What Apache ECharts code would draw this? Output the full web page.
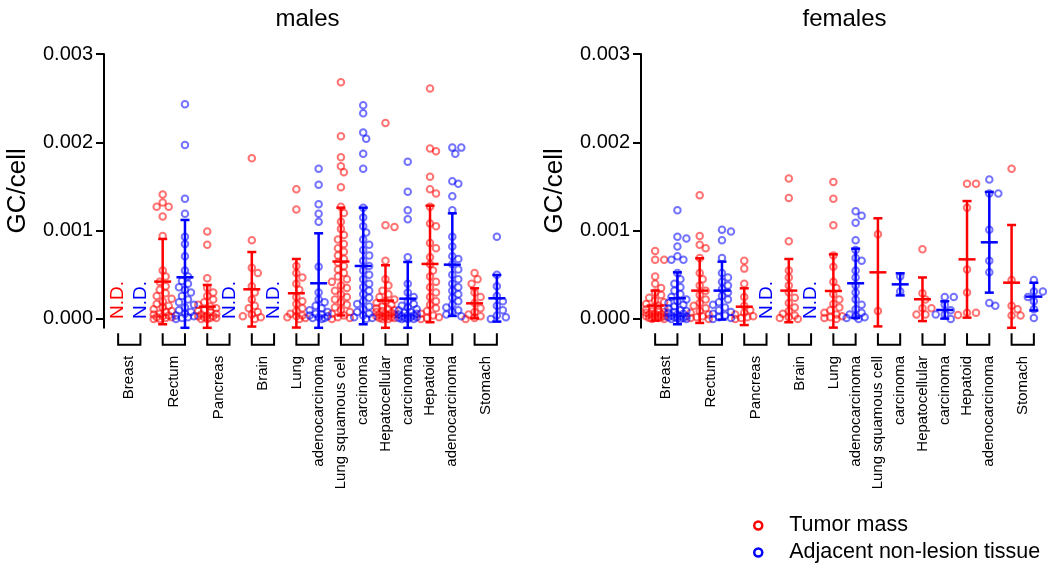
<!DOCTYPE html>
<html><head><meta charset="utf-8">
<script src="https://cdn.jsdelivr.net/npm/echarts@6/dist/echarts.min.js"></script>
<style>html,body{margin:0;padding:0;background:#fff}#c{width:1050px;height:573px}</style>
</head><body><div id="c"></div><script>
// ---------------- data (values in units of 0.001 GC/cell) ----------------
const categories = ['Breast','Rectum','Pancreas','Brain','Lung\nadenocarcinoma','Lung squamous cell\ncarcinoma','Hepatocellular\ncarcinoma','Hepatoid\nadenocarcinoma','Stomach'];
const panelTitles = ['males','females'];
const seriesNames = ['Tumor mass','Adjacent non-lesion tissue'];
const yTicks = [0, 0.001, 0.002, 0.003];
const UNIT = 0.001;

const maleTumorPoints = [
  null,
  [1.41,1.32,1.27,1.27,1.16,0.94,0.55,0.48,0.42,0.37,0.33,0.29,0.26,0.23,0.2,0.17,0.15,0.13,0.11,0.09,0.08,0.06,0.05,0.04,0.03,0.02,0.02,0.01,0.0,0.0],
  [0.99,0.84,0.46,0.35,0.3,0.26,0.22,0.19,0.16,0.14,0.12,0.1,0.09,0.08,0.06,0.05,0.04,0.03,0.03,0.02,0.01,0.01,0.0,0.0],
  [1.82,0.89,0.58,0.52,0.37,0.3,0.22,0.15,0.12,0.08,0.05,0.03,0.02,0.0],
  [1.47,1.24,0.6,0.52,0.47,0.4,0.33,0.25,0.2,0.17,0.12,0.09,0.06,0.04,0.03,0.02,0.01,0.0],
  [2.68,2.07,1.83,1.73,1.66,1.49,1.27,1.2,1.1,1.02,0.95,0.9,0.85,0.8,0.76,0.72,0.68,0.64,0.6,0.56,0.52,0.48,0.45,0.42,0.38,0.35,0.32,0.28,0.25,0.22,0.19,0.16,0.13,0.1,0.08,0.06,0.04,0.02,0.01,0.0],
  [2.22,1.06,1.04,0.66,0.45,0.38,0.32,0.28,0.25,0.22,0.2,0.18,0.16,0.14,0.12,0.11,0.1,0.09,0.08,0.07,0.06,0.05,0.05,0.04,0.03,0.03,0.02,0.02,0.01,0.01,0.0,0.0],
  [2.61,1.93,1.9,1.61,1.47,1.42,1.27,1.08,1.05,0.86,0.8,0.7,0.62,0.55,0.48,0.42,0.36,0.3,0.25,0.2,0.16,0.12,0.09,0.06,0.04,0.02,0.01,0.0],
  [0.52,0.45,0.4,0.3,0.25,0.18,0.12,0.08,0.05,0.03,0.01,0.0]
];
const maleAdjPoints = [
  null,
  [2.43,1.97,1.36,1.19,0.93,0.85,0.71,0.55,0.48,0.43,0.4,0.36,0.33,0.3,0.26,0.22,0.19,0.16,0.13,0.1,0.08,0.06,0.04,0.03,0.02,0.01,0.0],
  null,
  null,
  [1.7,1.52,1.3,1.19,1.1,0.59,0.3,0.22,0.19,0.15,0.12,0.1,0.08,0.06,0.05,0.04,0.03,0.02,0.01,0.01,0.0],
  [2.42,2.33,2.11,2.04,1.87,1.7,1.26,1.15,1.05,0.98,0.9,0.84,0.78,0.72,0.66,0.6,0.55,0.5,0.45,0.4,0.36,0.32,0.28,0.24,0.2,0.17,0.14,0.11,0.08,0.06,0.04,0.02,0.01,0.0],
  [1.78,1.44,1.23,1.13,0.7,0.4,0.3,0.25,0.2,0.17,0.15,0.13,0.11,0.1,0.08,0.07,0.06,0.05,0.04,0.04,0.03,0.02,0.02,0.01,0.01,0.0,0.0,0.0],
  [1.94,1.94,1.87,1.56,1.53,1.39,1.23,0.93,0.82,0.71,0.68,0.62,0.56,0.5,0.45,0.4,0.36,0.32,0.28,0.24,0.2,0.16,0.13,0.1,0.08,0.05,0.03],
  [0.93,0.5,0.37,0.26,0.2,0.15,0.1,0.04,0.02,0.0]
];
const femaleTumorPoints = [
  [0.77,0.67,0.67,0.48,0.4,0.35,0.3,0.27,0.24,0.21,0.19,0.17,0.15,0.13,0.12,0.11,0.1,0.09,0.08,0.07,0.06,0.05,0.05,0.04,0.04,0.03,0.03,0.02,0.02,0.01,0.01,0.0,0.0],
  [1.4,0.94,0.84,0.8,0.69,0.52,0.45,0.38,0.32,0.27,0.22,0.18,0.15,0.12,0.09,0.07,0.05,0.03,0.02,0.01,0.0],
  [0.66,0.57,0.4,0.25,0.15,0.1,0.07,0.05,0.03,0.02,0.01,0.0],
  [1.59,1.37,0.88,0.55,0.47,0.38,0.3,0.24,0.18,0.13,0.09,0.06,0.04,0.02,0.01,0.0],
  [1.55,1.36,1.06,0.72,0.59,0.42,0.35,0.28,0.22,0.17,0.13,0.1,0.07,0.05,0.03,0.02,0.01,0.0],
  [0.96,0.09],
  [0.79,0.29,0.22,0.12,0.12,0.05,0.05],
  [1.53,1.53,1.26,0.56,0.3,0.07,0.07,0.045],
  [1.7,0.44,0.15,0.11,0.04,0.04]
];
const femaleAdjPoints = [
  [1.23,0.93,0.91,0.82,0.71,0.67,0.67,0.52,0.45,0.4,0.36,0.32,0.28,0.25,0.22,0.2,0.18,0.16,0.14,0.12,0.1,0.09,0.08,0.07,0.06,0.05,0.04,0.03,0.03,0.02,0.02,0.01,0.01,0.0,0.0,0.0],
  [1.01,0.99,0.89,0.69,0.52,0.47,0.42,0.38,0.34,0.3,0.26,0.22,0.19,0.16,0.13,0.1,0.08,0.06,0.04,0.02,0.01,0.0],
  null,
  null,
  [1.22,1.17,1.09,0.89,0.78,0.69,0.66,0.55,0.47,0.38,0.3,0.22,0.16,0.11,0.07,0.05,0.03,0.02,0.01,0.0],
  [0.48,0.31],
  [0.25,0.25,0.16,0.1,0.05,0.05,0.0],
  [1.58,1.42,1.42,1.01,0.66,0.53,0.18,0.15],
  [0.44,0.31,0.31,0.25,0.2,0.11,0.01]
];

const maleTumorMean   = [null,0.423,0.139,0.336,0.291,0.65,0.208,0.623,0.177];
const maleTumorSD     = [null,0.483,0.246,0.422,0.388,0.61,0.40,0.66,0.17];
const maleAdjMean     = [null,0.472,null,null,0.404,0.600,0.230,0.615,0.234];
const maleAdjSD       = [null,0.649,null,null,0.566,0.66,0.415,0.581,0.264];
const femaleTumorMean = [0.151,0.321,0.139,0.321,0.317,0.528,0.223,0.675,0.411];
const femaleTumorSD   = [0.17,0.366,0.208,0.358,0.415,0.612,0.247,0.66,0.653];
const femaleAdjMean   = [0.234,0.321,null,null,0.404,0.392,0.102,0.868,0.253];
const femaleAdjSD     = [0.294,0.328,null,null,0.392,0.125,0.098,0.57,0.157];

// ---------------- layout / style ----------------
const FONT = '"Liberation Sans", Arial, Helvetica, sans-serif';
const Y_MIN = -0.0001, Y_MAX = 0.003;
const GRID_TOP = 54, GRID_H = 273.8, GRID_W = 401;
const GRID_LEFT = [107, 644];
const NCOL = categories.length * 2;
const COLORS = ['#ff0000', '#0000ff'];
const FADED = ['rgba(255,0,0,0.55)', 'rgba(0,0,255,0.55)'];

const panels = [
  {points:[maleTumorPoints, maleAdjPoints], mean:[maleTumorMean, maleAdjMean], sd:[maleTumorSD, maleAdjSD]},
  {points:[femaleTumorPoints, femaleAdjPoints], mean:[femaleTumorMean, femaleAdjMean], sd:[femaleTumorSD, femaleAdjSD]}
];

// deterministic beeswarm layout of points around the column centre
function swarm(vals, col) {
  const pyPer = GRID_H / (Y_MAX - Y_MIN);
  const pxPerCol = GRID_W / NCOL;
  const D = 6.5, STEP = 3, MAXO = 10;
  const placed = [], out = [];
  const order = vals.map((v, i) => i).sort((a, b) => vals[b] - vals[a]);
  for (const i of order) {
    const y = vals[i] * UNIT * pyPer;
    let best = 0, bestScore = -Infinity;
    for (let k = 0; ; k++) {
      const o = k === 0 ? 0 : (k % 2 ? 1 : -1) * Math.ceil(k / 2) * STEP;
      if (Math.abs(o) > MAXO) break;
      let minD = Infinity;
      for (const p of placed) { const d = Math.hypot(p[0] - o, p[1] - y); if (d < minD) minD = d; }
      if (minD >= D) { best = o; bestScore = Infinity; break; }
      if (minD > bestScore) { bestScore = minD; best = o; }
    }
    placed.push([best, y]);
    out.push([col + best / pxPerCol, vals[i] * UNIT]);
  }
  return out;
}

function errRender(color) {
  return function (params, api) {
    const x = api.value(0), m = api.value(1), sd = api.value(2);
    const c = api.coord([x, m]);
    const top = api.coord([x, Math.min(m + sd, Y_MAX)]);
    const bot = api.coord([x, Math.max(m - sd, Y_MIN)]);
    const cap = 4.5, mw = 8.5;
    const st = {stroke: color, lineWidth: 2.5, fill: null};
    return {type: 'group', children: [
      {type: 'line', shape: {x1: c[0], y1: top[1], x2: c[0], y2: bot[1]}, style: st},
      {type: 'line', shape: {x1: c[0] - cap, y1: top[1], x2: c[0] + cap, y2: top[1]}, style: st},
      {type: 'line', shape: {x1: c[0] - cap, y1: bot[1], x2: c[0] + cap, y2: bot[1]}, style: st},
      {type: 'line', shape: {x1: c[0] - mw, y1: c[1], x2: c[0] + mw, y2: c[1]}, style: st}
    ]};
  };
}

const grid = [], xAxis = [], yAxis = [], series = [], graphic = [];
panels.forEach((pn, p) => {
  grid.push({left: GRID_LEFT[p], top: GRID_TOP, width: GRID_W, height: GRID_H, containLabel: false, outerBoundsMode: 'none'});
  xAxis.push({type: 'value', gridIndex: p, min: -0.5, max: NCOL - 0.5, show: false, position: 'top'});
  xAxis.push({type: 'category', gridIndex: p, data: categories, position: 'bottom',
    axisLine: {show: false, onZero: false}, axisTick: {show: false}, splitLine: {show: false},
    axisLabel: {rotate: 90, interval: 0, fontSize: 15, lineHeight: 22, margin: 28, color: '#000', fontFamily: FONT}});
  yAxis.push({type: 'value', gridIndex: p, min: Y_MIN, max: Y_MAX, offset: 3, position: 'left',
    axisLine: {show: true, onZero: false, lineStyle: {color: '#000', width: 2}},
    axisTick: {show: true, inside: false, length: 8, customValues: yTicks, lineStyle: {color: '#000', width: 2}},
    axisLabel: {customValues: yTicks, inside: false, formatter: v => v.toFixed(3), fontSize: 20, color: '#000', margin: 11, fontFamily: FONT},
    splitLine: {show: false},
    name: 'GC/cell', nameLocation: 'middle', nameGap: 73,
    nameTextStyle: {fontSize: 26, color: '#000', fontFamily: FONT}});

  const ndData = [];
  [0, 1].forEach(s => {
    const scatterData = [], errData = [];
    categories.forEach((cat, k) => {
      const col = 2 * k + s;
      const pts = pn.points[s][k];
      if (pts) scatterData.push(...swarm(pts, col));
      else ndData.push([col, 0, s]);
      if (pn.mean[s][k] != null) errData.push([col, pn.mean[s][k] * UNIT, pn.sd[s][k] * UNIT]);
    });
    series.push({type: 'scatter', name: seriesNames[s], xAxisIndex: 2 * p, yAxisIndex: p,
      data: scatterData, symbol: 'circle', symbolSize: 6.5, z: 2,
      itemStyle: {color: 'rgba(0,0,0,0)', borderColor: FADED[s], borderWidth: 2, opacity: 1},
      emphasis: {disabled: true}});
    series.push({type: 'custom', name: 'err' + p + s, xAxisIndex: 2 * p, yAxisIndex: p,
      data: errData, encode: {x: 0, y: 1}, renderItem: errRender(COLORS[s]), z: 5, silent: true});
  });
  // N.D. labels
  series.push({type: 'custom', name: 'nd' + p, xAxisIndex: 2 * p, yAxisIndex: p, data: ndData,
    encode: {x: 0, y: 1}, silent: true, z: 4,
    renderItem: (params, api) => {
      const pt = api.coord([api.value(0), 0]);
      return {type: 'text', x: pt[0], y: pt[1], rotation: Math.PI / 2,
        style: {text: 'N.D.', fill: COLORS[api.value(2)], font: '19px ' + FONT, align: 'left', verticalAlign: 'middle'}};
    }});
  // category brackets
  series.push({type: 'custom', name: 'br' + p, xAxisIndex: 2 * p, yAxisIndex: p, clip: false, silent: true,
    data: categories.map((c, k) => [k, 0]), encode: {x: 0, y: 1},
    renderItem: (params, api) => {
      const k = api.value(0);
      const a = api.coord([2 * k, Y_MIN]), b = api.coord([2 * k + 1, Y_MIN]);
      const y0 = a[1] + 5.5, y1 = a[1] + 17;
      return {type: 'polyline', shape: {points: [[a[0], y0], [a[0], y1], [b[0], y1], [b[0], y0]]},
        style: {stroke: '#000', lineWidth: 2, fill: null}};
    }});
  graphic.push({type: 'text', x: GRID_LEFT[p] + GRID_W / 2, y: 19,
    style: {text: panelTitles[p], font: '24px ' + FONT, fill: '#000', align: 'center', verticalAlign: 'middle'}});
});

const chart = echarts.init(document.getElementById('c'), null, {renderer: 'canvas'});
chart.setOption({
  animation: false,
  backgroundColor: '#fff',
  grid, xAxis, yAxis, series, graphic,
  legend: {orient: 'vertical', left: 753, top: 514.5, padding: 0, itemWidth: 52, itemHeight: 8, itemGap: 5,
    icon: 'circle', selectedMode: false,
    textStyle: {fontSize: 21.5, color: '#000', fontFamily: FONT, lineHeight: 22},
    data: [
      {name: seriesNames[0], itemStyle: {color: '#fff', borderColor: '#ff0000', borderWidth: 2.5}},
      {name: seriesNames[1], itemStyle: {color: '#fff', borderColor: '#0000ff', borderWidth: 2.5}}
    ]}
});
</script></body></html>
